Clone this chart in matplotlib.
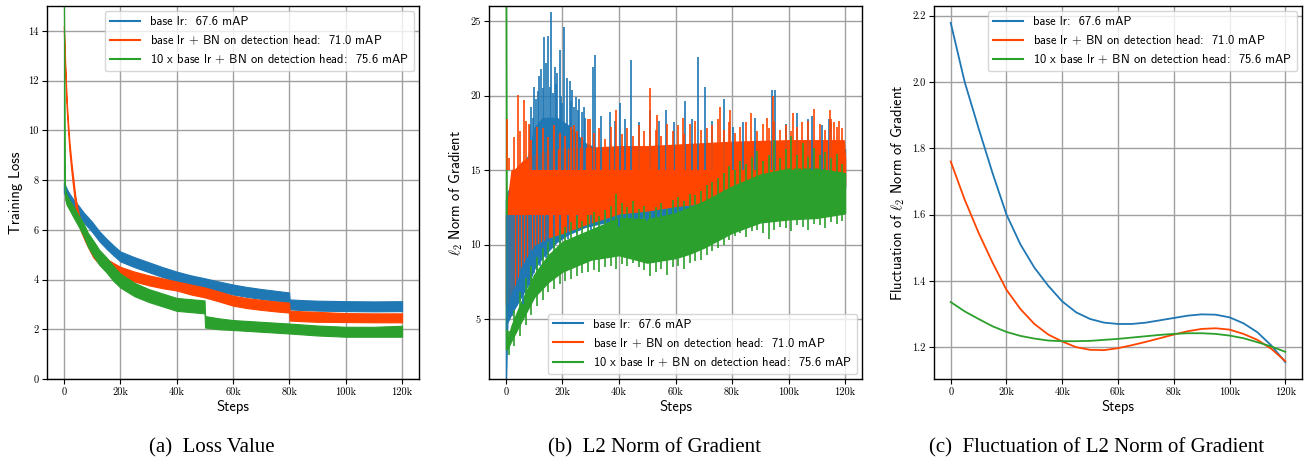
import matplotlib
matplotlib.use("Agg")
import matplotlib.pyplot as plt
import numpy as np
from matplotlib.ticker import FuncFormatter

plt.rcParams['mathtext.fontset'] = 'cm'
plt.rcParams['axes.unicode_minus'] = False

C_BLUE = '#1f77b4'
C_ORANGE = '#ff4500'
C_GREEN = '#2ca02c'

labels = ['base lr:  67.6 mAP',
          'base lr $+$ BN on detection head:  71.0 mAP',
          '10 x base lr $+$ BN on detection head:  75.6 mAP']

# ---------------- (a) Training loss (steps in k): band centre and half-width ----------------
loss_blue_x = [0, 1, 2, 3.5, 5, 7, 10, 12.5, 15, 17.5, 20, 25, 30, 35, 40, 45, 50, 55, 60, 65, 70, 75,
               79.9, 80.1, 85, 90, 100, 110, 120]
loss_blue_mid = [7.7, 7.45, 7.25, 7.0, 6.8, 6.5, 6.12, 5.75, 5.45, 5.18, 4.93, 4.7, 4.5, 4.3, 4.12, 3.97,
                 3.85, 3.72, 3.6, 3.5, 3.42, 3.35, 3.28, 3.0, 2.97, 2.95, 2.93, 2.92, 2.93]
loss_blue_hw = [0.2] * 29

loss_orange_x = [0, 0.5, 1, 1.5, 2, 2.7, 3.5, 4, 5, 6, 7.5, 9, 10.5, 12.5, 15, 17.5, 20, 25, 30, 35, 40,
                 45, 50, 55, 60, 65, 70, 75, 79.9, 80.1, 85, 90, 100, 110, 120]
loss_orange_mid = [14.05, 12.4, 11.0, 10.1, 9.3, 8.5, 7.7, 7.2, 6.55, 6.15, 5.75, 5.4, 5.1, 4.85, 4.62,
                   4.45, 4.29, 4.12, 3.97, 3.85, 3.74, 3.6, 3.48, 3.32, 3.15, 3.05, 2.98, 2.92, 2.87,
                   2.55, 2.52, 2.5, 2.47, 2.46, 2.46]
loss_orange_hw = [0.15, 0.18, 0.2, 0.2, 0.2, 0.2, 0.2, 0.2, 0.2, 0.2, 0.2, 0.2, 0.22, 0.22, 0.22, 0.22,
                  0.22, 0.2, 0.2, 0.2, 0.18, 0.2, 0.2, 0.2, 0.2, 0.2, 0.2, 0.2, 0.2, 0.2, 0.2, 0.2,
                  0.18, 0.18, 0.18]

loss_green_x = [0, 0.2, 0.5, 1, 2, 3.5, 5, 7, 8.5, 10.5, 12.5, 15, 17.5, 20, 25, 30, 35, 40, 45, 49.9,
                50.1, 55, 60, 70, 80, 90, 100, 110, 120]
loss_green_mid = [16.0, 8.0, 7.4, 7.2, 7.0, 6.7, 6.4, 6.0, 5.6, 5.25, 4.9, 4.6, 4.25, 3.96, 3.6, 3.36,
                  3.18, 3.0, 2.95, 2.9, 2.3, 2.22, 2.17, 2.1, 2.03, 1.95, 1.9, 1.9, 1.92]
loss_green_hw = [0.5, 0.2, 0.2, 0.2, 0.2, 0.22, 0.22, 0.25, 0.28, 0.3, 0.3, 0.3, 0.3, 0.28, 0.27, 0.26,
                 0.26, 0.26, 0.26, 0.26, 0.23, 0.22, 0.2, 0.2, 0.2, 0.2, 0.2, 0.2, 0.22]

# ---------------- (b) L2 norm of gradient ----------------
grad_blue_x = [0, 0.5, 2, 5, 8, 10, 13, 18, 22, 28, 35, 40, 50, 60, 80, 100, 120]
grad_blue_lo = [1.0, 4.8, 5.4, 6.4, 7.4, 8.4, 9.2, 10.2, 10.7, 11.2, 11.5, 11.6, 11.8, 11.9, 12.8, 13.3, 13.8]
grad_blue_hi = [13.0, 13.5, 14.0, 15.0, 16.0, 17.8, 18.5, 18.5, 18.0, 16.8, 16.2, 16.2, 16.3, 16.3, 16.5, 16.6, 16.4]
# spikes above the blue band
grad_blue_spk_x = [8.5, 9.0, 9.5, 10.0, 10.7, 11.3, 11.8, 12.5, 13.0, 13.6, 14.3, 15.0, 15.6, 16.1, 16.7,
                   17.2, 17.8, 18.2, 19.0, 19.5, 20.0, 20.7, 21.5, 22.5, 23.0, 23.5, 24.2, 24.9, 25.5,
                   26.0, 27.0, 27.5, 28.0, 30.8, 31.6, 33.5, 36.7, 38.5, 40.2, 42.0, 44.1, 47.0, 51.0,
                   54.0, 56.8, 59.5, 63.4, 66.0, 68.1, 70.6, 73.0, 77.0, 80.5, 84.0, 88.0, 94.2, 95.3,
                   99.0, 103.0, 106.8, 108.4, 112.0, 114.3, 115.0]
grad_blue_spk_y = [18.0, 19.2, 18.5, 20.6, 19.8, 20.3, 21.3, 21.8, 20.5, 23.9, 22.2, 24.0, 20.6, 25.6, 20.2,
                   21.9, 20.8, 21.5, 23.05, 20.0, 19.5, 24.6, 21.2, 21.0, 19.6, 20.4, 19.2, 19.9, 19.0,
                   19.8, 18.9, 19.2, 18.5, 21.9, 22.7, 18.6, 18.9, 18.3, 19.5, 18.4, 22.4, 18.2, 19.0,
                   18.3, 19.0, 18.2, 19.6, 18.4, 22.6, 20.6, 18.3, 19.8, 17.9, 18.2, 18.5, 20.4, 20.4,
                   18.1, 18.8, 18.4, 18.6, 18.0, 18.4, 18.2]
# dips below the blue band (early phase, visible between green and orange)
grad_blue_dip_x = [0.5, 1.0, 1.5, 2.0, 3.0, 4.0, 5.0, 6.0, 7.0, 8.0, 9.0, 10.0, 11.0, 12.0, 13.0, 14.0, 15.0,
                   17.0, 19.0, 22.0, 25.0, 30.0, 35.0, 40.0, 45.0, 50.0, 55.0]
grad_blue_dip_y = [4.3, 5.0, 5.5, 5.2, 5.4, 5.9, 6.2, 6.0, 6.8, 7.3, 7.6, 8.1, 8.3, 8.6, 9.0, 9.1, 9.3,
                   9.8, 10.1, 10.4, 10.7, 11.0, 11.3, 11.2, 11.5, 11.6, 11.4]

grad_orange_x = [0, 0.3, 1, 2, 3, 4, 5, 6, 8, 10, 15, 20, 30, 40, 50, 60, 70, 80, 100, 119.5, 120]
grad_orange_lo = [6.0, 6.0, 6.5, 7.0, 7.3, 7.8, 8.5, 8.8, 9.5, 10.0, 10.5, 10.8, 11.5, 12.1, 12.3, 12.6, 12.8,
                  13.2, 13.8, 14.0, 14.0]
grad_orange_hi = [12.0, 12.0, 13.5, 15.0, 15.0, 15.2, 15.4, 15.6, 15.8, 16.0, 16.3, 16.4, 16.5, 16.6, 16.6,
                  16.7, 16.8, 16.9, 17.0, 17.0, 15.8]
grad_orange_spk_x = [0.5, 1, 3, 4.1, 5, 6.5, 7, 8.3, 9, 11, 13, 15, 17, 19, 21, 23, 24, 25, 27, 29, 29.6, 31,
                     33, 35, 37, 39, 41, 43, 45, 47, 49, 50.9, 53, 53.3, 55, 57, 59, 61, 62.7, 63, 65,
                     67, 69, 71, 73, 75, 75.7, 77, 79, 79.4, 81, 83, 85, 86.8, 89, 91, 92.3, 93, 94.5,
                     95, 97, 99, 101, 101.7, 103, 104.9, 107, 109, 111, 113, 114.8, 115, 116, 117,
                     117.8, 119]
grad_orange_spk_y = [18.4, 15.8, 17.2, 20.05, 17.6, 19.7, 18.3, 18.1, 17.0, 17.9, 17.8, 17.2, 18.0, 17.5,
                     17.3, 17.9, 18.0, 17.6, 17.2, 18.4, 18.4, 17.5, 17.8, 17.1, 17.9, 19.0, 17.4, 17.8,
                     17.3, 18.0, 17.6, 20.5, 17.7, 18.7, 17.3, 18.1, 17.6, 18.0, 18.5, 17.4, 18.1,
                     18.3, 17.7, 17.8, 18.0, 18.4, 19.25, 17.7, 18.2, 19.0, 17.5, 17.9, 18.2, 18.8,
                     17.6, 18.1, 18.5, 17.8, 20.0, 18.3, 17.7, 18.0, 17.6, 18.8, 17.9, 18.25, 18.3,
                     19.1, 18.1, 17.7, 19.0, 18.4, 18.25, 17.9, 18.3, 17.8]

grad_green_x = [0, 0.3, 0.5, 2, 5, 10, 15, 20, 30, 40, 50, 60, 65, 70, 75, 80, 90, 100, 110, 120]
grad_green_lo = [3.0, 3.0, 3.0, 3.6, 4.7, 6.5, 7.5, 8.2, 9.0, 9.3, 8.8, 9.1, 9.4, 9.8, 10.3, 10.8, 11.5, 11.7,
                 11.8, 12.1]
grad_green_hi = [26.5, 3.8, 3.6, 4.6, 6.0, 8.0, 9.3, 10.2, 11.0, 11.8, 11.7, 12.1, 12.5, 12.9, 13.4, 13.9,
                 14.7, 15.1, 15.1, 14.8]
grad_green_x2 = [1, 3, 5, 7, 9, 11, 13, 15, 17, 19, 21, 23, 25, 27, 29, 31, 33, 35, 37, 39, 41, 43, 45, 47,
                 49, 51, 53, 55, 57, 59, 61, 63, 65, 67, 69, 71, 73, 75, 77, 79, 81, 83, 85, 87, 89, 91,
                 93, 95, 97, 99, 101, 103, 105, 107, 109, 111, 113, 115, 117, 119]
grad_green_top = [4.2, 5.6, 6.8, 7.8, 8.6, 9.2, 9.8, 10.2, 10.6, 11.0, 11.2, 11.5, 11.9, 11.6, 12.0, 12.2,
                  11.9, 12.3, 12.6, 13.4, 12.8, 12.5, 12.9, 12.4, 12.6, 12.2, 12.5, 12.8, 12.4, 13.0, 13.2,
                  12.9, 13.4, 13.3, 13.6, 14.0, 14.2, 14.5, 14.8, 15.3, 15.0, 15.6, 15.4, 15.9, 16.3, 15.6,
                  16.0, 17.0, 15.8, 16.4, 17.3, 16.0, 16.8, 15.9, 16.5, 16.0, 16.2, 15.8, 16.1, 15.4]
grad_green_bot = [2.6, 3.2, 3.9, 4.6, 5.3, 5.9, 6.3, 6.8, 7.0, 7.4, 7.6, 7.7, 7.9, 8.1, 8.2, 8.3, 8.2, 8.5,
                  8.6, 8.4, 8.7, 8.6, 8.8, 8.5, 8.3, 7.9, 8.2, 8.4, 8.0, 8.5, 8.6, 8.4, 8.8, 8.9, 9.0, 9.3,
                  9.6, 9.8, 10.0, 10.3, 10.6, 10.8, 10.5, 10.9, 11.0, 10.8, 10.4, 11.0, 11.2, 11.1, 10.9,
                  11.3, 11.2, 11.0, 11.4, 11.3, 11.1, 11.5, 11.4, 11.6]

# ---------------- (c) Fluctuation (smoothed) ----------------
fluc_x = [0, 5, 10, 15, 20, 25, 30, 35, 40, 45, 50, 55, 60, 65, 70, 75, 80, 85, 90, 95, 100, 105, 110, 115, 120]
fluc_blue = [2.178, 2.00, 1.86, 1.725, 1.60, 1.51, 1.44, 1.385, 1.338, 1.305, 1.285, 1.274, 1.270, 1.270,
             1.274, 1.281, 1.288, 1.295, 1.299, 1.298, 1.290, 1.272, 1.245, 1.205, 1.155]
fluc_orange = [1.760, 1.645, 1.545, 1.455, 1.373, 1.315, 1.270, 1.238, 1.217, 1.200, 1.192, 1.191, 1.197,
               1.206, 1.216, 1.227, 1.238, 1.248, 1.255, 1.257, 1.253, 1.240, 1.222, 1.195, 1.158]
fluc_green = [1.336, 1.308, 1.285, 1.263, 1.246, 1.234, 1.226, 1.220, 1.218, 1.218, 1.219, 1.222, 1.225,
              1.229, 1.233, 1.237, 1.240, 1.242, 1.242, 1.240, 1.235, 1.227, 1.215, 1.202, 1.186]

xtick_vals = [0, 20, 40, 60, 80, 100, 120]
xtick_labels = ['0', '20k', '40k', '60k', '80k', '100k', '120k']

W, H = 1305, 458
fig = plt.figure(figsize=(W / 100, H / 100), dpi=100)

LABEL_FONT = dict(family='cmss10', size=10.5)


def style(ax):
    ax.set_xticks(xtick_vals)
    ax.set_xticklabels(xtick_labels)
    ax.grid(True, color='#a0a0a0', linewidth=1.0)
    ax.set_axisbelow(True)
    for lab in ax.get_xticklabels() + ax.get_yticklabels():
        lab.set_fontfamily('cmr10')
        lab.set_fontsize(7.5)
    ax.tick_params(length=3.5, width=0.8, pad=2.5)
    ax.set_xlabel('Steps', fontdict=LABEL_FONT, labelpad=2)
    for s in ax.spines.values():
        s.set_linewidth(1.0)


def legend(ax, loc):
    handles = [plt.Line2D([], [], color=c, lw=1.5) for c in (C_BLUE, C_ORANGE, C_GREEN)]
    ax.legend(handles, labels, loc=loc, prop={'family': 'cmss10', 'size': 9},
              handlelength=2.4, borderaxespad=0.4, labelspacing=0.45)


def band(ax, x, mid, hw, c):
    mid = np.asarray(mid)
    hw = np.asarray(hw)
    ax.fill_between(x, mid - hw, mid + hw, color=c, linewidth=0.8, edgecolor=c)


bot = 1 - 379 / H
hgt = 373 / H

# (a)
ax = fig.add_axes([47 / W, bot, 372 / W, hgt])
band(ax, loss_blue_x, loss_blue_mid, loss_blue_hw, C_BLUE)
band(ax, loss_orange_x, loss_orange_mid, loss_orange_hw, C_ORANGE)
band(ax, loss_green_x, loss_green_mid, loss_green_hw, C_GREEN)
ax.set_xlim(-6, 126)
ax.set_ylim(0, 15)
ax.set_yticks([0, 2, 4, 6, 8, 10, 12, 14])
style(ax)
ax.set_ylabel('Training Loss', fontdict=LABEL_FONT, labelpad=4)
legend(ax, 'upper right')

# (b)
ax = fig.add_axes([489 / W, bot, 373 / W, hgt])
ax.fill_between(grad_blue_x, grad_blue_lo, grad_blue_hi, color=C_BLUE, linewidth=1.0, edgecolor=C_BLUE)
ax.vlines(grad_blue_spk_x, 15, grad_blue_spk_y, color=C_BLUE, linewidth=1.2)
ax.vlines(grad_blue_dip_x, grad_blue_dip_y, 12, color=C_BLUE, linewidth=1.2)
ax.fill_between(grad_orange_x, grad_orange_lo, grad_orange_hi, color=C_ORANGE, linewidth=1.0, edgecolor=C_ORANGE)
ax.vlines(grad_orange_spk_x, 15, grad_orange_spk_y, color=C_ORANGE, linewidth=1.2)
ax.fill_between(grad_green_x, grad_green_lo, grad_green_hi, color=C_GREEN, linewidth=1.0, edgecolor=C_GREEN)
ax.vlines(grad_green_x2, grad_green_bot, grad_green_top, color=C_GREEN, linewidth=1.2)
ax.set_xlim(-6, 126)
ax.set_ylim(1, 26)
ax.set_yticks([5, 10, 15, 20, 25])
style(ax)
ax.set_ylabel(r'$\ell_2$ Norm of Gradient', fontdict=LABEL_FONT, labelpad=4)
legend(ax, 'lower right')

# (c)
ax = fig.add_axes([934 / W, bot, 368 / W, hgt])
ax.plot(fluc_x, fluc_blue, color=C_BLUE, lw=1.3)
ax.plot(fluc_x, fluc_orange, color=C_ORANGE, lw=1.3)
ax.plot(fluc_x, fluc_green, color=C_GREEN, lw=1.3)
ax.set_xlim(-6, 126)
ax.set_ylim(1.104, 2.229)
ax.set_yticks([1.2, 1.4, 1.6, 1.8, 2.0, 2.2])
ax.yaxis.set_major_formatter(FuncFormatter(lambda v, p: f'{v:.1f}'))
style(ax)
ax.set_ylabel(r'Fluctuation of $\ell_2$ Norm of Gradient', fontdict=LABEL_FONT, labelpad=4)
legend(ax, 'upper right')

cap = dict(ha='center', va='center', family='Liberation Serif', size=15)
fig.text(212 / W, 1 - 448 / H, '(a)  Loss Value', **cap)
fig.text(654 / W, 1 - 448 / H, '(b)  L2 Norm of Gradient', **cap)
fig.text(1097 / W, 1 - 448 / H, '(c)  Fluctuation of L2 Norm of Gradient', **cap)

fig.savefig('out.png', dpi=100)
